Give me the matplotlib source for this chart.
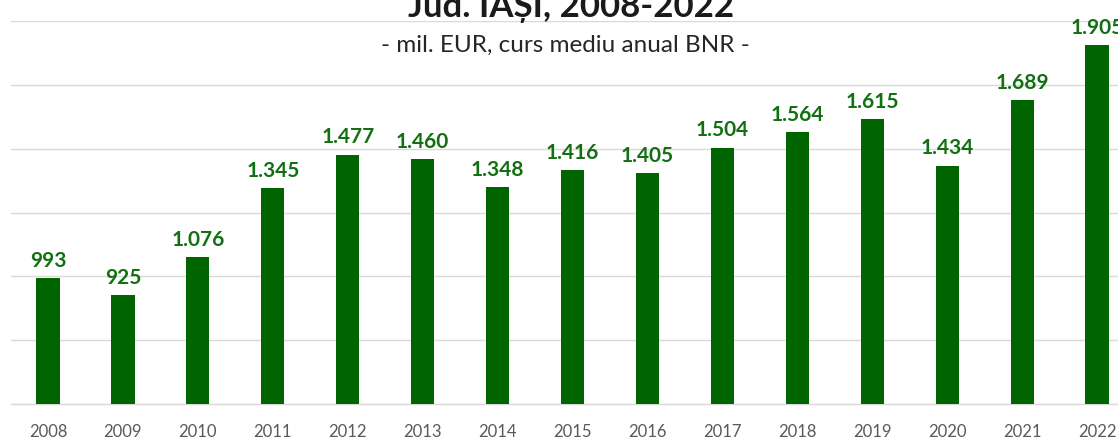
import matplotlib
matplotlib.use('Agg')
import matplotlib.pyplot as plt
import numpy as np

# === 数据 ===
years = ['2008', '2009', '2010', '2011', '2012', '2013', '2014', '2015',
         '2016', '2017', '2018', '2019', '2020', '2021', '2022']
values = [993, 925, 1076, 1345, 1477, 1460, 1348, 1416, 1405, 1504,
          1564, 1615, 1434, 1689, 1905]

TITLE = 'Jud. IAȘI, 2008-2022'
SUBTITLE = '- mil. EUR, curs mediu anual BNR -'

BAR_COLOR = '#006400'
LABEL_COLOR = '#127012'

plt.rcParams['font.family'] = ['Lato', 'DejaVu Sans']

fig = plt.figure(figsize=(11.18, 4.39), dpi=100)
# axes 故意超出右边界（原图被裁切）
ax = fig.add_axes([0.0094, 0.0774, 1.0054, 0.8725])

x = np.arange(len(years))
ax.bar(x, values, width=0.31, color=BAR_COLOR, zorder=3)

ax.set_xlim(-0.5, len(years) - 0.5)
ax.set_ylim(500, 2000)
ax.set_yticks([500, 750, 1000, 1250, 1500, 1750, 2000])
ax.yaxis.grid(True, color='#d9d9d9', linewidth=1.0, zorder=0)
ax.set_yticklabels([])
ax.tick_params(axis='y', length=0)

ax.set_xticks(x)
ax.set_xticklabels(years, fontsize=12, color='#595959')
ax.tick_params(axis='x', length=0, pad=14)

for s in ['top', 'right', 'left']:
    ax.spines[s].set_visible(False)
ax.spines['bottom'].set_color('#d9d9d9')
ax.spines['bottom'].set_linewidth(1.0)

# 数值标签
for xi, v in zip(x, values):
    label = f'{v:,}'.replace(',', '.')
    ax.annotate(label, (xi, v), xytext=(0, 6), textcoords='offset points',
                ha='center', va='bottom', fontsize=15, fontweight='bold',
                color=LABEL_COLOR, zorder=4)

# 标题（顶部被裁切）
fig.text(0.511, 0.984, TITLE, ha='center', va='center', fontsize=25,
         fontweight='bold', color='#1a1a1a')
fig.text(0.506, 0.897, SUBTITLE, ha='center', va='center', fontsize=17.5,
         color='#262626')

fig.savefig('out.png', dpi=100, facecolor='white')
